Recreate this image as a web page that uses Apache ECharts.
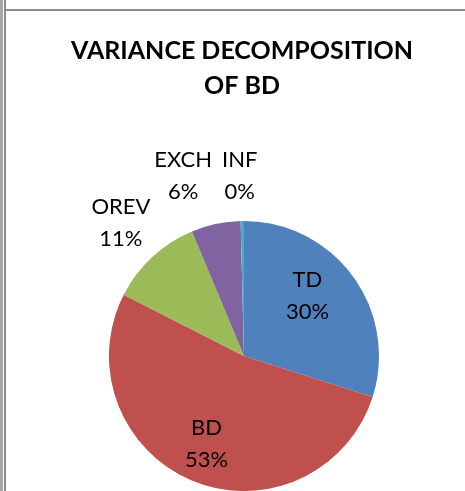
<!DOCTYPE html>
<html lang="en">
<head>
    <meta charset="utf-8"/>
    <title>Variance decomposition of BD</title>
    <script type="text/javascript" src="https://cdn.jsdelivr.net/npm/echarts@6/dist/echarts.min.js"></script>
</head>
<style>
    body { margin: 0; background: #fff; }
    #frame { position: relative; width: 465px; height: 491px; overflow: hidden; }
    .ln { position: absolute; }
    #echarts { position: absolute; left: 6px; top: 0; width: 459px; height: 491px; }
</style>
<body>
<div id="frame">
    <div class="ln" style="left:0;top:0;width:3px;height:491px;background:#a6a6a6"></div>
    <div class="ln" style="left:4px;top:0;width:2px;height:491px;background:#8a8a8a"></div>
    <div class="ln" style="left:6px;top:9px;width:459px;height:2px;background:#8a8a8a"></div>
    <div id="echarts"></div>
</div>
<script type="text/javascript">
    // data
    var names = ['TD', 'BD', 'OREV', 'EXCH', 'INF'];
    var values = [29.9, 52.6, 11.2, 5.9, 0.4];
    var colors = ['#4f81bd', '#c0504d', '#9bbb59', '#8064a2', '#4bacc6'];
    // which labels sit inside the pie, which outside
    var inside = [true, true, false, false, false];
    var labelShift = [[-12, -5], [-2, 1], [0, 0], [-23, -3], [-2, 1]];

    var total = 0;
    for (var i = 0; i < values.length; i++) total += values[i];

    var center = [238, 356];
    var R = 135;

    function items(part) {
        var arr = [];
        for (var i = 0; i < names.length; i++) {
            var show = part === 'pie' ? false : (part === 'in' ? inside[i] : !inside[i]);
            arr.push({
                name: names[i],
                value: values[i],
                itemStyle: part === 'pie' ? {color: colors[i]} : {color: 'rgba(0,0,0,0)'},
                label: {show: show, offset: labelShift[i]}
            });
        }
        return arr;
    }

    var labelStyle = {
        position: 'inside',
        fontFamily: 'Lato',
        fontSize: 22,
        lineHeight: 32,
        color: '#000',
        formatter: function (p) {
            return p.name + '\n' + Math.round(p.value / total * 100) + '%';
        }
    };

    var myChart = echarts.init(document.getElementById('echarts'));
    var option = {
        animation: false,
        title: {
            text: 'VARIANCE DECOMPOSITION\nOF BD',
            left: 231,
            textAlign: 'center',
            top: 28,
            textStyle: {fontFamily: 'Lato', fontSize: 25, fontWeight: 'bold', lineHeight: 35, color: '#000'}
        },
        series: [{
            type: 'pie',
            silent: true,
            startAngle: 90,
            clockwise: true,
            center: center,
            radius: [0, R],
            label: {show: false},
            labelLine: {show: false},
            itemStyle: {borderWidth: 0},
            data: items('pie')
        }, {
            type: 'pie',
            silent: true,
            startAngle: 90,
            center: center,
            radius: [46, R],
            label: labelStyle,
            labelLine: {show: false},
            data: items('in')
        }, {
            type: 'pie',
            silent: true,
            startAngle: 90,
            center: center,
            radius: [R, 221],
            label: labelStyle,
            labelLine: {show: false},
            data: items('out')
        }]
    };
    myChart.setOption(option);
</script>
</body>
</html>
